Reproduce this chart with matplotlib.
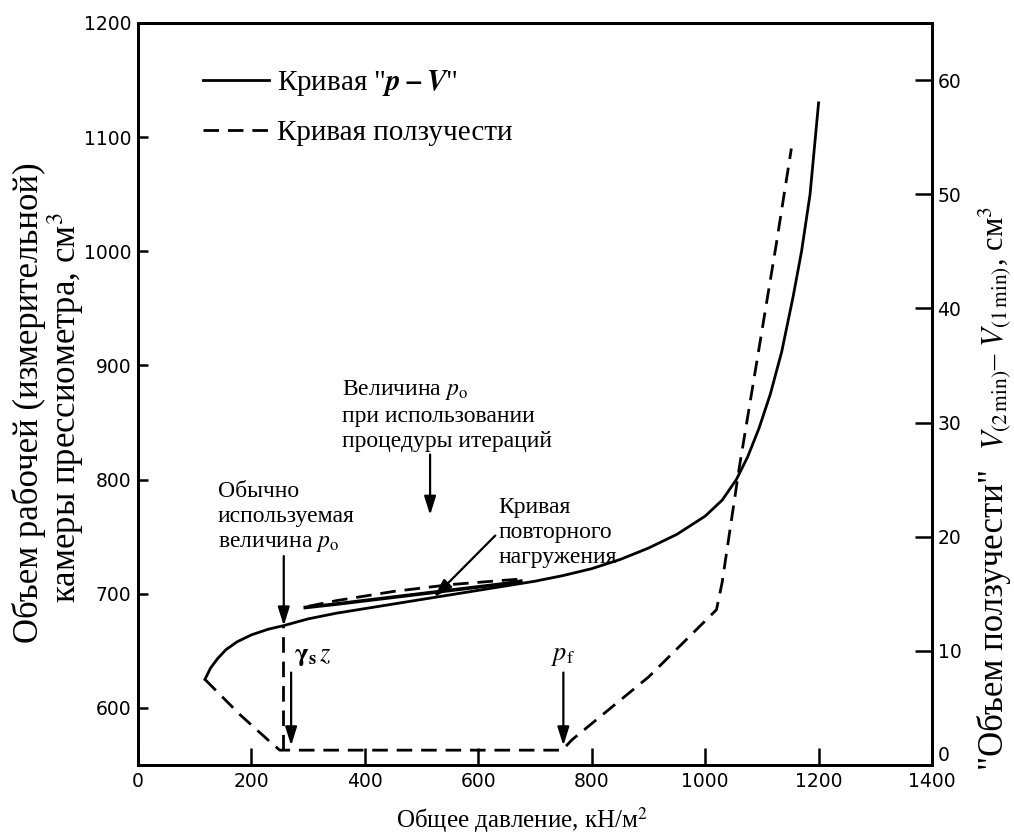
import matplotlib
matplotlib.use('Agg')
import matplotlib.pyplot as plt

plt.rcParams['font.family'] = ['Liberation Serif', 'DejaVu Serif']
plt.rcParams['mathtext.fontset'] = 'stix'

# ---------------- data ----------------
# main "p-V" curve: pressure (kN/m2) vs volume (cm3, left axis)
pv_pressure = [118, 128, 140, 155, 175, 200, 230, 256, 300, 350, 400, 450, 500,
               550, 600, 650, 700, 750, 800, 850, 900, 950, 1000, 1030, 1055,
               1075, 1095, 1115, 1135, 1155, 1170, 1185, 1200]
pv_volume = [625, 635, 643, 651, 658, 664, 669, 672, 678, 683, 687, 691, 695,
             699, 703, 707, 711, 716, 722, 730, 740, 752, 768, 782, 800,
             820, 845, 875, 912, 960, 1000, 1050, 1130]

# reloading loop (solid) and unloading branch (dashed)
reload_pressure = [295, 350, 400, 450, 500, 550, 600, 650, 675]
reload_volume = [688, 691, 694, 697, 700, 703, 706, 709, 711]
unload_pressure = [300, 350, 400, 450, 500, 550, 600, 650, 680]
unload_volume = [689, 694, 698, 702, 705, 708, 710, 712, 713]

# creep curve: pressure vs V(2 min) - V(1 min), cm3 (right axis)
creep_pressure = [118, 180, 238, 250, 400, 600, 748, 765, 900, 1020, 1030,
                  1045, 1060, 1075, 1100, 1125, 1152]
creep_volume = [7.5, 4.4, 1.8, 1.3, 1.3, 1.3, 1.3, 2.2, 7.7, 13.6, 16.0,
                21.0, 26.0, 30.5, 38.0, 45.5, 54.0]

# vertical dashed line at the usual p0
p0_line_pressure = [256, 256]
p0_line_creep = [1.3, 12.2]

x_ticks = [0, 200, 400, 600, 800, 1000, 1200, 1400]
left_ticks = [600, 700, 800, 900, 1000, 1100, 1200]
right_ticks = [0, 10, 20, 30, 40, 50, 60]

# ---------------- figure ----------------
W, H = 1014, 840
fig = plt.figure(figsize=(W / 100, H / 100), dpi=100)
L, R, T, B = 138, 932, 23, 765
ax = fig.add_axes([L / W, 1 - B / H, (R - L) / W, (B - T) / H])
ax2 = ax.twinx()

ax.set_xlim(0, 1400)
ax.set_ylim(550, 1200)
ax2.set_ylim(0, 65)

LW = 2.0
DASH = (0, (5.6, 3.2))

l_pv, = ax.plot(pv_pressure, pv_volume, color='k', lw=LW, solid_joinstyle='round')
ax.plot(reload_pressure, reload_volume, color='k', lw=LW + 0.6)
ax.plot(unload_pressure, unload_volume, color='k', lw=LW, linestyle=DASH)
l_cr, = ax2.plot(creep_pressure, creep_volume, color='k', lw=LW, linestyle=DASH)
ax2.plot(p0_line_pressure, p0_line_creep, color='k', lw=LW, linestyle=DASH)

# spines / ticks
for a in (ax, ax2):
    for s in a.spines.values():
        s.set_linewidth(2.0)
ax.set_xticks(x_ticks)
ax.set_yticks(left_ticks)
ax2.set_yticks(right_ticks)
TFS = 13.5
ax.tick_params(axis='x', direction='in', length=12, width=1.8, labelsize=TFS, pad=5, top=False)
ax.tick_params(axis='y', direction='in', length=7, width=1.8, labelsize=TFS, pad=5, right=False)
ax2.tick_params(axis='y', direction='in', length=12, width=1.8, labelsize=TFS, pad=4)
for lbl in ax.get_xticklabels() + ax.get_yticklabels() + ax2.get_yticklabels():
    lbl.set_fontfamily('DejaVu Sans')
ax2.get_yticklabels()[0].set_verticalalignment('bottom')

# legend
LFS = 21
leg = ax2.legend([l_pv, l_cr], ['Кривая "$\\mathbfit{p-V}$"', 'Кривая ползучести'],
                 loc='upper left', bbox_to_anchor=(65 / (R - L), 1 - 45 / (B - T)),
                 frameon=False, fontsize=LFS, handlelength=2.25, handletextpad=0.3,
                 labelspacing=0.75, borderaxespad=0, borderpad=0)

# annotations
FS = 17
txt = dict(color='k', fontsize=FS, linespacing=1.25)
ax.text(360, 857, 'Величина $p_{\\mathrm{o}}$\nпри использовании\nпроцедуры итераций',
        ha='left', va='center', **txt)
ax.text(141, 767, 'Обычно\nиспользуемая\nвеличина $p_{\\mathrm{o}}$',
        ha='left', va='center', **txt)
ax.text(635, 754, 'Кривая\nповторного\nнагружения', ha='left', va='center', **txt)
ax.text(275, 645, '$\\mathbf{\\gamma}_{\\mathbf{s}}\\,z$', ha='left', va='center', fontsize=19)
ax.text(750, 645, '$p_{\\mathrm{f}}$', ha='center', va='center', fontsize=19)

arw = dict(arrowstyle='-|>,head_length=0.7,head_width=0.22', color='k', lw=1.6,
           shrinkA=0, shrinkB=0, mutation_scale=16)
ax.annotate('', xy=(515, 769), xytext=(515, 822), arrowprops=arw)
ax.annotate('', xy=(257, 672), xytext=(257, 733), arrowprops=arw)
ax.annotate('', xy=(522, 697), xytext=(630, 751), arrowprops=arw)
ax.annotate('', xy=(270, 567), xytext=(270, 631), arrowprops=arw)
ax.annotate('', xy=(750, 567), xytext=(750, 631), arrowprops=arw)

# axis labels
fig.text(522 / W, 1 - 820 / H, 'Общее давление, кН/м$^2$', ha='center', va='center', fontsize=18)

rot = dict(rotation=90, rotation_mode='anchor', ha='center', va='baseline')
fig.text(38 / W, 1 - 403 / H, 'Объем рабочей (измерительной)', fontsize=25, **rot)
fig.text(76 / W, 1 - 408 / H, 'камеры прессиометра, см$^3$', fontsize=25, **rot)

rot_l = dict(rotation=90, rotation_mode='anchor', ha='left', va='baseline')
fig.text(1003 / W, 1 - 770 / H, '"Объем ползучести"', fontsize=25, **rot_l)
fig.text(1003 / W, 1 - 450 / H,
         '$V_{(2\\,\\mathrm{min})}$– $V_{(1\\,\\mathrm{min})}$, см$^3$', fontsize=22, **rot_l)

fig.savefig('out.png', dpi=100)
